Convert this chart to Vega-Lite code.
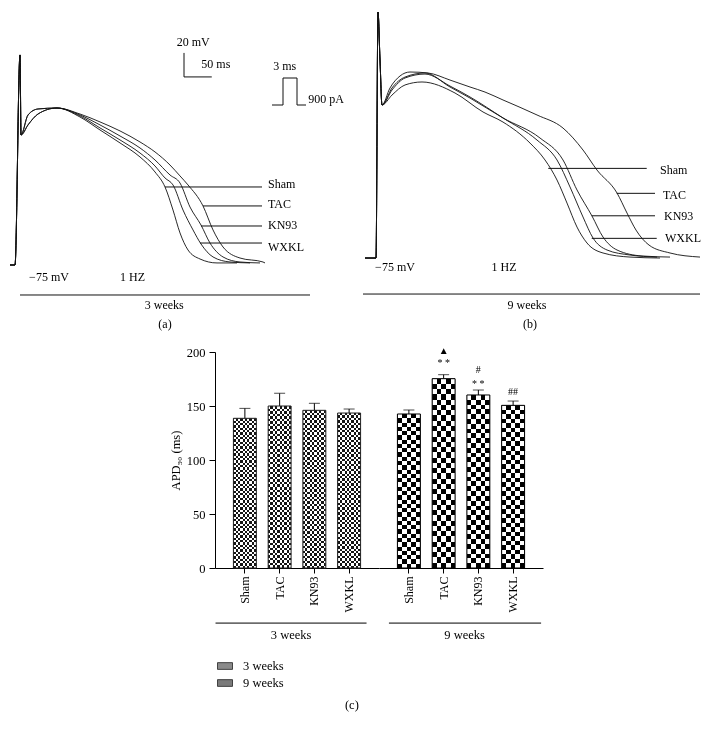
{
  "$schema": "https://vega.github.io/schema/vega-lite/v6.json",
  "padding": 0,
  "background": "white",
  "config": {
    "view": {"stroke": null},
    "font": "Liberation Serif",
    "axis": {"labelFont": "Liberation Serif", "titleFont": "Liberation Serif", "labelColor": "#000", "titleColor": "#000"},
    "text": {"font": "Liberation Serif"}
  },
  "datasets": {
    "tracesA": [
      {"series": "Sham", "t": -9, "v": -75}, {"series": "Sham", "t": 0, "v": -75}, {"series": "Sham", "t": 9, "v": 100}, {"series": "Sham", "t": 10.8, "v": 33.3},
      {"series": "Sham", "t": 23.4, "v": 41.7}, {"series": "Sham", "t": 41.4, "v": 50.8}, {"series": "Sham", "t": 75.6, "v": 55.8}, {"series": "Sham", "t": 117, "v": 48.3},
      {"series": "Sham", "t": 153, "v": 37.5}, {"series": "Sham", "t": 189, "v": 26.7}, {"series": "Sham", "t": 225, "v": 15}, {"series": "Sham", "t": 252, "v": 2.5},
      {"series": "Sham", "t": 270, "v": -10}, {"series": "Sham", "t": 284.4, "v": -29.2}, {"series": "Sham", "t": 297, "v": -48.3}, {"series": "Sham", "t": 311.4, "v": -62.5},
      {"series": "Sham", "t": 333, "v": -70}, {"series": "Sham", "t": 363.6, "v": -73.3}, {"series": "Sham", "t": 399.6, "v": -73.3},
      {"series": "WXKL", "t": -9, "v": -75}, {"series": "WXKL", "t": 0, "v": -75}, {"series": "WXKL", "t": 9, "v": 100}, {"series": "WXKL", "t": 10.8, "v": 33.3},
      {"series": "WXKL", "t": 23.4, "v": 41.7}, {"series": "WXKL", "t": 41.4, "v": 50.8}, {"series": "WXKL", "t": 75.6, "v": 55.8}, {"series": "WXKL", "t": 117, "v": 49.2},
      {"series": "WXKL", "t": 153, "v": 39.2}, {"series": "WXKL", "t": 189, "v": 29.2}, {"series": "WXKL", "t": 225, "v": 18.3}, {"series": "WXKL", "t": 252, "v": 7.5},
      {"series": "WXKL", "t": 270, "v": -2.5}, {"series": "WXKL", "t": 284.4, "v": -8.3}, {"series": "WXKL", "t": 302.4, "v": -29.2}, {"series": "WXKL", "t": 320.4, "v": -45.8},
      {"series": "WXKL", "t": 334.8, "v": -57.5}, {"series": "WXKL", "t": 356.4, "v": -68.3}, {"series": "WXKL", "t": 387, "v": -72.5}, {"series": "WXKL", "t": 423, "v": -73.3},
      {"series": "KN93", "t": -9, "v": -75}, {"series": "KN93", "t": 0, "v": -75}, {"series": "KN93", "t": 9, "v": 100}, {"series": "KN93", "t": 10.8, "v": 33.3},
      {"series": "KN93", "t": 23.4, "v": 50}, {"series": "KN93", "t": 41.4, "v": 55}, {"series": "KN93", "t": 75.6, "v": 55.8}, {"series": "KN93", "t": 117, "v": 50},
      {"series": "KN93", "t": 153, "v": 41.7}, {"series": "KN93", "t": 189, "v": 32.5}, {"series": "KN93", "t": 225, "v": 22.5}, {"series": "KN93", "t": 252, "v": 12.5},
      {"series": "KN93", "t": 279, "v": 0}, {"series": "KN93", "t": 297, "v": -6.7}, {"series": "KN93", "t": 315, "v": -26.7}, {"series": "KN93", "t": 334.8, "v": -41.7},
      {"series": "KN93", "t": 351, "v": -56.7}, {"series": "KN93", "t": 374.4, "v": -68.3}, {"series": "KN93", "t": 405, "v": -72.5}, {"series": "KN93", "t": 441, "v": -73.3},
      {"series": "TAC", "t": -9, "v": -75}, {"series": "TAC", "t": 0, "v": -75}, {"series": "TAC", "t": 9, "v": 100}, {"series": "TAC", "t": 10.8, "v": 33.3},
      {"series": "TAC", "t": 23.4, "v": 50}, {"series": "TAC", "t": 41.4, "v": 55}, {"series": "TAC", "t": 75.6, "v": 55.8}, {"series": "TAC", "t": 117, "v": 50.8},
      {"series": "TAC", "t": 153, "v": 44.2}, {"series": "TAC", "t": 189, "v": 36.7}, {"series": "TAC", "t": 225, "v": 27.5}, {"series": "TAC", "t": 252, "v": 19.2},
      {"series": "TAC", "t": 279, "v": 8.3}, {"series": "TAC", "t": 297, "v": -0.8}, {"series": "TAC", "t": 311.4, "v": -8.3}, {"series": "TAC", "t": 338.4, "v": -25.8},
      {"series": "TAC", "t": 356.4, "v": -45.8}, {"series": "TAC", "t": 374.4, "v": -60}, {"series": "TAC", "t": 405, "v": -69.2}, {"series": "TAC", "t": 446.4, "v": -72.5},
      {"series": "TAC", "t": 450, "v": -73.3}
    ],
    "tracesB": [
      {"series": "TAC", "t": -23.4, "v": -75}, {"series": "TAC", "t": -3.6, "v": -75}, {"series": "TAC", "t": 0, "v": 130}, {"series": "TAC", "t": 3.6, "v": 90}, {"series": "TAC", "t": 7.2, "v": 52.5},
      {"series": "TAC", "t": 21.6, "v": 66.7}, {"series": "TAC", "t": 39.6, "v": 76.7}, {"series": "TAC", "t": 57.6, "v": 80}, {"series": "TAC", "t": 90, "v": 79.2},
      {"series": "TAC", "t": 129.6, "v": 73.3}, {"series": "TAC", "t": 165.6, "v": 67.5}, {"series": "TAC", "t": 192.6, "v": 63.3}, {"series": "TAC", "t": 225, "v": 56.7},
      {"series": "TAC", "t": 286.2, "v": 44.2}, {"series": "TAC", "t": 333, "v": 33.3}, {"series": "TAC", "t": 369, "v": 15}, {"series": "TAC", "t": 394.2, "v": -1.7},
      {"series": "TAC", "t": 430.2, "v": -20.8}, {"series": "TAC", "t": 448.2, "v": -37.5}, {"series": "TAC", "t": 464.4, "v": -51.7}, {"series": "TAC", "t": 487.8, "v": -64.2},
      {"series": "TAC", "t": 525.6, "v": -70.8}, {"series": "TAC", "t": 579.6, "v": -74.2},
      {"series": "Sham", "t": -23.4, "v": -75}, {"series": "Sham", "t": -3.6, "v": -75}, {"series": "Sham", "t": 0, "v": 130}, {"series": "Sham", "t": 3.6, "v": 90}, {"series": "Sham", "t": 7.2, "v": 52.5},
      {"series": "Sham", "t": 25.2, "v": 60.8}, {"series": "Sham", "t": 48.6, "v": 69.2}, {"series": "Sham", "t": 79.2, "v": 71.7}, {"series": "Sham", "t": 138.6, "v": 62.5},
      {"series": "Sham", "t": 189, "v": 46.7}, {"series": "Sham", "t": 225, "v": 38.3}, {"series": "Sham", "t": 273.6, "v": 20.8}, {"series": "Sham", "t": 300.6, "v": 6.7},
      {"series": "Sham", "t": 322.2, "v": -10}, {"series": "Sham", "t": 340.2, "v": -29.2}, {"series": "Sham", "t": 358.2, "v": -49.2}, {"series": "Sham", "t": 376.2, "v": -62.5},
      {"series": "Sham", "t": 405, "v": -70.8}, {"series": "Sham", "t": 453.6, "v": -74.2}, {"series": "Sham", "t": 507.6, "v": -75},
      {"series": "WXKL", "t": -23.4, "v": -75}, {"series": "WXKL", "t": -3.6, "v": -75}, {"series": "WXKL", "t": 0, "v": 130}, {"series": "WXKL", "t": 3.6, "v": 90}, {"series": "WXKL", "t": 7.2, "v": 52.5},
      {"series": "WXKL", "t": 25.2, "v": 65}, {"series": "WXKL", "t": 48.6, "v": 75}, {"series": "WXKL", "t": 84.6, "v": 78.3}, {"series": "WXKL", "t": 129.6, "v": 68.3},
      {"series": "WXKL", "t": 165.6, "v": 59.2}, {"series": "WXKL", "t": 225, "v": 41.7}, {"series": "WXKL", "t": 286.2, "v": 23.3}, {"series": "WXKL", "t": 322.2, "v": 6.7},
      {"series": "WXKL", "t": 345.6, "v": -15.8}, {"series": "WXKL", "t": 369, "v": -40.8}, {"series": "WXKL", "t": 387, "v": -58.3}, {"series": "WXKL", "t": 412.2, "v": -68.3},
      {"series": "WXKL", "t": 453.6, "v": -72.5}, {"series": "WXKL", "t": 502.2, "v": -74.2},
      {"series": "KN93", "t": -23.4, "v": -75}, {"series": "KN93", "t": -3.6, "v": -75}, {"series": "KN93", "t": 0, "v": 130}, {"series": "KN93", "t": 3.6, "v": 90}, {"series": "KN93", "t": 7.2, "v": 52.5},
      {"series": "KN93", "t": 25.2, "v": 66.7}, {"series": "KN93", "t": 48.6, "v": 75.8}, {"series": "KN93", "t": 84.6, "v": 79.2}, {"series": "KN93", "t": 129.6, "v": 67.5},
      {"series": "KN93", "t": 165.6, "v": 58.3}, {"series": "KN93", "t": 225, "v": 41.7}, {"series": "KN93", "t": 291.6, "v": 25}, {"series": "KN93", "t": 333, "v": 6.7},
      {"series": "KN93", "t": 358.2, "v": -18.3}, {"series": "KN93", "t": 385.2, "v": -40}, {"series": "KN93", "t": 405, "v": -57.5}, {"series": "KN93", "t": 430.2, "v": -68.3},
      {"series": "KN93", "t": 475.2, "v": -73.3}, {"series": "KN93", "t": 525.6, "v": -74.2}
    ],
    "segA": [
      {"t": 304.2, "t2": 304.2, "v": 81.7, "v2": 101.7},
      {"t": 304.2, "t2": 354.2, "v": 81.7, "v2": 81.7},
      {"t": 462.6, "t2": 482.4, "v": 58.3, "v2": 58.3},
      {"t": 482.4, "t2": 482.4, "v": 58.3, "v2": 80.8},
      {"t": 482.4, "t2": 507.6, "v": 80.8, "v2": 80.8},
      {"t": 507.6, "t2": 507.6, "v": 80.8, "v2": 58.3},
      {"t": 507.6, "t2": 523.8, "v": 58.3, "v2": 58.3},
      {"t": 270, "t2": 444.6, "v": -10, "v2": -10},
      {"t": 338.4, "t2": 444.6, "v": -25.8, "v2": -25.8},
      {"t": 334.8, "t2": 444.6, "v": -42.5, "v2": -42.5},
      {"t": 333, "t2": 444.6, "v": -56.7, "v2": -56.7},
      {"t": 9, "t2": 531, "v": -100, "v2": -100}
    ],
    "segB": [
      {"t": 306.5, "t2": 483.7, "v": -0.3, "v2": -0.3},
      {"t": 429.7, "t2": 498.6, "v": -21.1, "v2": -21.1},
      {"t": 384.7, "t2": 498.6, "v": -39.8, "v2": -39.8},
      {"t": 384.7, "t2": 501.7, "v": -58.6, "v2": -58.6},
      {"t": -27, "t2": 579.6, "v": -105, "v2": -105}
    ],
    "midTextA": [
      {"t": 320.9, "v": 110.6, "label": "20 mV"},
      {"t": 361.5, "v": 92.2, "label": "50 ms"},
      {"t": 485.4, "v": 91.1, "label": "3 ms"},
      {"t": 61.2, "v": -85, "label": "−75 mV"},
      {"t": 211.5, "v": -85, "label": "1 HZ"},
      {"t": 268.7, "v": -108.3, "label": "3 weeks"},
      {"t": 270, "v": -124.2, "label": "(a)"}
    ],
    "leftTextA": [
      {"t": 528, "v": 63.3, "label": "900 pA"},
      {"t": 455.4, "v": -7.5, "label": "Sham"},
      {"t": 455.4, "v": -24.2, "label": "TAC"},
      {"t": 455.4, "v": -41.7, "label": "KN93"},
      {"t": 455.4, "v": -59.7, "label": "WXKL"}
    ],
    "midTextB": [
      {"t": 30.6, "v": -82.5, "label": "−75 mV"},
      {"t": 226.8, "v": -82.5, "label": "1 HZ"},
      {"t": 268.2, "v": -114.2, "label": "9 weeks"},
      {"t": 273.6, "v": -130, "label": "(b)"}
    ],
    "leftTextB": [
      {"t": 507.6, "v": -1.7, "label": "Sham"},
      {"t": 513, "v": -22.5, "label": "TAC"},
      {"t": 514.8, "v": -40.3, "label": "KN93"},
      {"t": 516.6, "v": -58.5, "label": "WXKL"}
    ],
    "bars3w": [
      {"treatment": "Sham", "week": "3 weeks", "apd": 138.6, "upper": 147.8},
      {"treatment": "TAC", "week": "3 weeks", "apd": 150, "upper": 161.7},
      {"treatment": "KN93", "week": "3 weeks", "apd": 146, "upper": 152.5},
      {"treatment": "WXKL", "week": "3 weeks", "apd": 143.5, "upper": 147.2}
    ],
    "bars9w": [
      {"treatment": "Sham", "week": "9 weeks", "apd": 142.6, "upper": 146.3},
      {"treatment": "TAC", "week": "9 weeks", "apd": 175.3, "upper": 179},
      {"treatment": "KN93", "week": "9 weeks", "apd": 160.2, "upper": 164.8},
      {"treatment": "WXKL", "week": "9 weeks", "apd": 150.6, "upper": 154.6}
    ],
    "sig9w": [
      {"treatment": "TAC", "symbol": "▲", "yv": 200.6},
      {"treatment": "TAC", "symbol": "* *", "yv": 190},
      {"treatment": "KN93", "symbol": "#", "yv": 183.3},
      {"treatment": "KN93", "symbol": "* *", "yv": 170.6},
      {"treatment": "WXKL", "symbol": "##", "yv": 163.2}
    ]
  },
  "vconcat": [
    {
      "hconcat": [
        {
          "width": 345, "height": 340,
          "layer": [
            {"data": {"name": "tracesA"}, "mark": {"type": "line", "color": "#111", "strokeWidth": 0.9, "interpolate": "monotone"},
             "encoding": {
               "x": {"field": "t", "type": "quantitative", "scale": {"domain": [-27, 594], "nice": false, "zero": false}, "axis": null},
               "y": {"field": "v", "type": "quantitative", "scale": {"domain": [-137.5, 145.8], "nice": false, "zero": false}, "axis": null},
               "detail": {"field": "series"}}},
            {"data": {"name": "segA"}, "mark": {"type": "rule", "color": "#111", "strokeWidth": 1},
             "encoding": {"x": {"field": "t", "type": "quantitative"}, "x2": {"field": "t2"}, "y": {"field": "v", "type": "quantitative"}, "y2": {"field": "v2"}}},
            {"data": {"name": "midTextA"}, "mark": {"type": "text", "align": "center", "baseline": "middle", "fontSize": 12, "color": "#000"},
             "encoding": {"x": {"field": "t", "type": "quantitative"}, "y": {"field": "v", "type": "quantitative"}, "text": {"field": "label"}}},
            {"data": {"name": "leftTextA"}, "mark": {"type": "text", "align": "left", "baseline": "middle", "fontSize": 12, "color": "#000"},
             "encoding": {"x": {"field": "t", "type": "quantitative"}, "y": {"field": "v", "type": "quantitative"}, "text": {"field": "label"}}}
          ]
        },
        {
          "width": 364, "height": 340,
          "layer": [
            {"data": {"name": "tracesB"}, "mark": {"type": "line", "color": "#111", "strokeWidth": 0.9, "interpolate": "monotone"},
             "encoding": {
               "x": {"field": "t", "type": "quantitative", "scale": {"domain": [-59.4, 595.8], "nice": false, "zero": false}, "axis": null},
               "y": {"field": "v", "type": "quantitative", "scale": {"domain": [-143.3, 140], "nice": false, "zero": false}, "axis": null},
               "detail": {"field": "series"}}},
            {"data": {"name": "segB"}, "mark": {"type": "rule", "color": "#111", "strokeWidth": 1},
             "encoding": {"x": {"field": "t", "type": "quantitative"}, "x2": {"field": "t2"}, "y": {"field": "v", "type": "quantitative"}, "y2": {"field": "v2"}}},
            {"data": {"name": "midTextB"}, "mark": {"type": "text", "align": "center", "baseline": "middle", "fontSize": 12, "color": "#000"},
             "encoding": {"x": {"field": "t", "type": "quantitative"}, "y": {"field": "v", "type": "quantitative"}, "text": {"field": "label"}}},
            {"data": {"name": "leftTextB"}, "mark": {"type": "text", "align": "left", "baseline": "middle", "fontSize": 12, "color": "#000"},
             "encoding": {"x": {"field": "t", "type": "quantitative"}, "y": {"field": "v", "type": "quantitative"}, "text": {"field": "label"}}}
          ]
        }
      ],
      "spacing": 0,
      "bounds": "flush"
    },
    {
      "hconcat": [
        {"width": 215, "height": 216, "data": {"values": [{"blank": 0}]}, "mark": {"type": "point", "opacity": 0}, "encoding": {}},
        {
          "width": 164, "height": 216,
          "data": {"name": "bars3w"},
          "encoding": {
            "x": {"field": "treatment", "type": "nominal", "sort": ["Sham", "TAC", "KN93", "WXKL"],
                  "scale": {"paddingInner": 0.34, "paddingOuter": 0.53},
                  "axis": {"title": null, "labelAngle": -90, "labelFontSize": 12, "tickSize": 5, "tickColor": "#000", "domainColor": "#000", "labelPadding": 3}}
          },
          "layer": [
            {"mark": {"type": "rule", "color": "#000", "strokeWidth": 1},
             "encoding": {"y": {"field": "apd", "type": "quantitative", "scale": {"domain": [0, 200], "nice": false},
                                "axis": {"title": "APD₉₀ (ms)", "values": [0, 50, 100, 150, 200], "grid": false, "tickSize": 6, "labelPadding": 4, "labelFontSize": 12.5, "titleFontSize": 12.5, "titleFontWeight": "normal", "titlePadding": 4, "domainColor": "#000", "tickColor": "#000"}},
                          "y2": {"field": "upper"}}},
            {"mark": {"type": "tick", "color": "#000", "thickness": 1, "size": 11},
             "encoding": {"y": {"field": "upper", "type": "quantitative"}}},
            {"mark": {"type": "bar"},
             "encoding": {"y": {"field": "apd", "type": "quantitative"},
                          "fill": {"field": "week", "type": "nominal", "scale": {"domain": ["3 weeks", "9 weeks"], "range": ["#8a8a8a", "#7a7a7a"]},
                                   "legend": {"orient": "none", "legendX": 2, "legendY": 306, "title": null, "symbolType": "M-1,-0.45H1V0.45H-1Z", "symbolSize": 225, "symbolStrokeColor": "#222", "symbolStrokeWidth": 0.8, "labelFontSize": 12.5, "labelColor": "#000", "labelOffset": 10, "rowPadding": 2, "symbolOpacity": 1}}}},
            {"mark": {"type": "bar", "fill": {"gradient": "linear", "x1": 0, "y1": 0, "x2": 1, "y2": 0, "stops": [
                {"offset": 0, "color": "#000"}, {"offset": 0.1, "color": "#000"}, {"offset": 0.1, "color": "#fff"}, {"offset": 0.2, "color": "#fff"},
                {"offset": 0.2, "color": "#000"}, {"offset": 0.3, "color": "#000"}, {"offset": 0.3, "color": "#fff"}, {"offset": 0.4, "color": "#fff"},
                {"offset": 0.4, "color": "#000"}, {"offset": 0.5, "color": "#000"}, {"offset": 0.5, "color": "#fff"}, {"offset": 0.6, "color": "#fff"},
                {"offset": 0.6, "color": "#000"}, {"offset": 0.7, "color": "#000"}, {"offset": 0.7, "color": "#fff"}, {"offset": 0.8, "color": "#fff"},
                {"offset": 0.8, "color": "#000"}, {"offset": 0.9, "color": "#000"}, {"offset": 0.9, "color": "#fff"}, {"offset": 1, "color": "#fff"}]}},
             "encoding": {"y": {"field": "apd", "type": "quantitative"}}},
            {"mark": {"type": "bar", "blend": "difference", "fill": {"gradient": "linear", "x1": 0, "y1": 0, "x2": 0, "y2": 1, "stops": [
                {"offset": 0, "color": "#fff"}, {"offset": 0.015625, "color": "#fff"}, {"offset": 0.015625, "color": "#000"}, {"offset": 0.03125, "color": "#000"},
                {"offset": 0.03125, "color": "#fff"}, {"offset": 0.046875, "color": "#fff"}, {"offset": 0.046875, "color": "#000"}, {"offset": 0.0625, "color": "#000"},
                {"offset": 0.0625, "color": "#fff"}, {"offset": 0.078125, "color": "#fff"}, {"offset": 0.078125, "color": "#000"}, {"offset": 0.09375, "color": "#000"},
                {"offset": 0.09375, "color": "#fff"}, {"offset": 0.109375, "color": "#fff"}, {"offset": 0.109375, "color": "#000"}, {"offset": 0.125, "color": "#000"},
                {"offset": 0.125, "color": "#fff"}, {"offset": 0.140625, "color": "#fff"}, {"offset": 0.140625, "color": "#000"}, {"offset": 0.15625, "color": "#000"},
                {"offset": 0.15625, "color": "#fff"}, {"offset": 0.171875, "color": "#fff"}, {"offset": 0.171875, "color": "#000"}, {"offset": 0.1875, "color": "#000"},
                {"offset": 0.1875, "color": "#fff"}, {"offset": 0.203125, "color": "#fff"}, {"offset": 0.203125, "color": "#000"}, {"offset": 0.21875, "color": "#000"},
                {"offset": 0.21875, "color": "#fff"}, {"offset": 0.234375, "color": "#fff"}, {"offset": 0.234375, "color": "#000"}, {"offset": 0.25, "color": "#000"},
                {"offset": 0.25, "color": "#fff"}, {"offset": 0.265625, "color": "#fff"}, {"offset": 0.265625, "color": "#000"}, {"offset": 0.28125, "color": "#000"},
                {"offset": 0.28125, "color": "#fff"}, {"offset": 0.296875, "color": "#fff"}, {"offset": 0.296875, "color": "#000"}, {"offset": 0.3125, "color": "#000"},
                {"offset": 0.3125, "color": "#fff"}, {"offset": 0.328125, "color": "#fff"}, {"offset": 0.328125, "color": "#000"}, {"offset": 0.34375, "color": "#000"},
                {"offset": 0.34375, "color": "#fff"}, {"offset": 0.359375, "color": "#fff"}, {"offset": 0.359375, "color": "#000"}, {"offset": 0.375, "color": "#000"},
                {"offset": 0.375, "color": "#fff"}, {"offset": 0.390625, "color": "#fff"}, {"offset": 0.390625, "color": "#000"}, {"offset": 0.40625, "color": "#000"},
                {"offset": 0.40625, "color": "#fff"}, {"offset": 0.421875, "color": "#fff"}, {"offset": 0.421875, "color": "#000"}, {"offset": 0.4375, "color": "#000"},
                {"offset": 0.4375, "color": "#fff"}, {"offset": 0.453125, "color": "#fff"}, {"offset": 0.453125, "color": "#000"}, {"offset": 0.46875, "color": "#000"},
                {"offset": 0.46875, "color": "#fff"}, {"offset": 0.484375, "color": "#fff"}, {"offset": 0.484375, "color": "#000"}, {"offset": 0.5, "color": "#000"},
                {"offset": 0.5, "color": "#fff"}, {"offset": 0.515625, "color": "#fff"}, {"offset": 0.515625, "color": "#000"}, {"offset": 0.53125, "color": "#000"},
                {"offset": 0.53125, "color": "#fff"}, {"offset": 0.546875, "color": "#fff"}, {"offset": 0.546875, "color": "#000"}, {"offset": 0.5625, "color": "#000"},
                {"offset": 0.5625, "color": "#fff"}, {"offset": 0.578125, "color": "#fff"}, {"offset": 0.578125, "color": "#000"}, {"offset": 0.59375, "color": "#000"},
                {"offset": 0.59375, "color": "#fff"}, {"offset": 0.609375, "color": "#fff"}, {"offset": 0.609375, "color": "#000"}, {"offset": 0.625, "color": "#000"},
                {"offset": 0.625, "color": "#fff"}, {"offset": 0.640625, "color": "#fff"}, {"offset": 0.640625, "color": "#000"}, {"offset": 0.65625, "color": "#000"},
                {"offset": 0.65625, "color": "#fff"}, {"offset": 0.671875, "color": "#fff"}, {"offset": 0.671875, "color": "#000"}, {"offset": 0.6875, "color": "#000"},
                {"offset": 0.6875, "color": "#fff"}, {"offset": 0.703125, "color": "#fff"}, {"offset": 0.703125, "color": "#000"}, {"offset": 0.71875, "color": "#000"},
                {"offset": 0.71875, "color": "#fff"}, {"offset": 0.734375, "color": "#fff"}, {"offset": 0.734375, "color": "#000"}, {"offset": 0.75, "color": "#000"},
                {"offset": 0.75, "color": "#fff"}, {"offset": 0.765625, "color": "#fff"}, {"offset": 0.765625, "color": "#000"}, {"offset": 0.78125, "color": "#000"},
                {"offset": 0.78125, "color": "#fff"}, {"offset": 0.796875, "color": "#fff"}, {"offset": 0.796875, "color": "#000"}, {"offset": 0.8125, "color": "#000"},
                {"offset": 0.8125, "color": "#fff"}, {"offset": 0.828125, "color": "#fff"}, {"offset": 0.828125, "color": "#000"}, {"offset": 0.84375, "color": "#000"},
                {"offset": 0.84375, "color": "#fff"}, {"offset": 0.859375, "color": "#fff"}, {"offset": 0.859375, "color": "#000"}, {"offset": 0.875, "color": "#000"},
                {"offset": 0.875, "color": "#fff"}, {"offset": 0.890625, "color": "#fff"}, {"offset": 0.890625, "color": "#000"}, {"offset": 0.90625, "color": "#000"},
                {"offset": 0.90625, "color": "#fff"}, {"offset": 0.921875, "color": "#fff"}, {"offset": 0.921875, "color": "#000"}, {"offset": 0.9375, "color": "#000"},
                {"offset": 0.9375, "color": "#fff"}, {"offset": 0.953125, "color": "#fff"}, {"offset": 0.953125, "color": "#000"}, {"offset": 0.96875, "color": "#000"},
                {"offset": 0.96875, "color": "#fff"}, {"offset": 0.984375, "color": "#fff"}, {"offset": 0.984375, "color": "#000"}, {"offset": 1, "color": "#000"}]}},
             "encoding": {"y": {"field": "apd", "type": "quantitative"}}},
            {"mark": {"type": "bar", "fill": "#fff", "fillOpacity": 0.08, "stroke": "#222", "strokeWidth": 1},
             "encoding": {"y": {"field": "apd", "type": "quantitative"}}},
            {"data": {"values": [{"label": "3 weeks"}]}, "mark": {"type": "rule", "color": "#000", "strokeWidth": 1},
             "encoding": {"x": {"datum": "Sham", "bandPosition": -0.78}, "x2": {"datum": "WXKL", "bandPosition": 1.26}, "y": {"datum": -51}}},
            {"data": {"values": [{"label": "3 weeks"}]}, "mark": {"type": "text", "align": "center", "baseline": "middle", "fontSize": 12.5, "color": "#000"},
             "encoding": {"x": {"datum": "TAC", "bandPosition": 1.0}, "y": {"datum": -62}, "text": {"field": "label"}}},
            {"data": {"values": [{"label": "(c)"}]}, "mark": {"type": "text", "align": "center", "baseline": "middle", "fontSize": 12.5, "color": "#000"},
             "encoding": {"x": {"datum": "WXKL", "bandPosition": 0.62}, "y": {"datum": -127}, "text": {"field": "label"}}}
          ]
        },
        {
          "width": 164, "height": 216,
          "data": {"name": "bars9w"},
          "encoding": {
            "x": {"field": "treatment", "type": "nominal", "sort": ["Sham", "TAC", "KN93", "WXKL"],
                  "scale": {"paddingInner": 0.34, "paddingOuter": 0.53},
                  "axis": {"title": null, "labelAngle": -90, "labelFontSize": 12, "tickSize": 5, "tickColor": "#000", "domainColor": "#000", "labelPadding": 3}}
          },
          "layer": [
            {"mark": {"type": "rule", "color": "#000", "strokeWidth": 1},
             "encoding": {"y": {"field": "apd", "type": "quantitative", "scale": {"domain": [0, 200], "nice": false}, "axis": null},
                          "y2": {"field": "upper"}}},
            {"mark": {"type": "tick", "color": "#000", "thickness": 1, "size": 11},
             "encoding": {"y": {"field": "upper", "type": "quantitative"}}},
            {"mark": {"type": "bar", "fill": {"gradient": "linear", "x1": 0, "y1": 0, "x2": 1, "y2": 0, "stops": [
                {"offset": 0, "color": "#000"}, {"offset": 0.2, "color": "#000"}, {"offset": 0.2, "color": "#fff"}, {"offset": 0.4, "color": "#fff"},
                {"offset": 0.4, "color": "#000"}, {"offset": 0.6, "color": "#000"}, {"offset": 0.6, "color": "#fff"}, {"offset": 0.8, "color": "#fff"},
                {"offset": 0.8, "color": "#000"}, {"offset": 1, "color": "#000"}]}},
             "encoding": {"y": {"field": "apd", "type": "quantitative"}}},
            {"mark": {"type": "bar", "blend": "difference", "fill": {"gradient": "linear", "x1": 0, "y1": 0, "x2": 0, "y2": 1, "stops": [
                {"offset": 0, "color": "#fff"}, {"offset": 0.0278, "color": "#fff"}, {"offset": 0.0278, "color": "#000"}, {"offset": 0.0556, "color": "#000"},
                {"offset": 0.0556, "color": "#fff"}, {"offset": 0.0833, "color": "#fff"}, {"offset": 0.0833, "color": "#000"}, {"offset": 0.1111, "color": "#000"},
                {"offset": 0.1111, "color": "#fff"}, {"offset": 0.1389, "color": "#fff"}, {"offset": 0.1389, "color": "#000"}, {"offset": 0.1667, "color": "#000"},
                {"offset": 0.1667, "color": "#fff"}, {"offset": 0.1944, "color": "#fff"}, {"offset": 0.1944, "color": "#000"}, {"offset": 0.2222, "color": "#000"},
                {"offset": 0.2222, "color": "#fff"}, {"offset": 0.25, "color": "#fff"}, {"offset": 0.25, "color": "#000"}, {"offset": 0.2778, "color": "#000"},
                {"offset": 0.2778, "color": "#fff"}, {"offset": 0.3056, "color": "#fff"}, {"offset": 0.3056, "color": "#000"}, {"offset": 0.3333, "color": "#000"},
                {"offset": 0.3333, "color": "#fff"}, {"offset": 0.3611, "color": "#fff"}, {"offset": 0.3611, "color": "#000"}, {"offset": 0.3889, "color": "#000"},
                {"offset": 0.3889, "color": "#fff"}, {"offset": 0.4167, "color": "#fff"}, {"offset": 0.4167, "color": "#000"}, {"offset": 0.4444, "color": "#000"},
                {"offset": 0.4444, "color": "#fff"}, {"offset": 0.4722, "color": "#fff"}, {"offset": 0.4722, "color": "#000"}, {"offset": 0.5, "color": "#000"},
                {"offset": 0.5, "color": "#fff"}, {"offset": 0.5278, "color": "#fff"}, {"offset": 0.5278, "color": "#000"}, {"offset": 0.5556, "color": "#000"},
                {"offset": 0.5556, "color": "#fff"}, {"offset": 0.5833, "color": "#fff"}, {"offset": 0.5833, "color": "#000"}, {"offset": 0.6111, "color": "#000"},
                {"offset": 0.6111, "color": "#fff"}, {"offset": 0.6389, "color": "#fff"}, {"offset": 0.6389, "color": "#000"}, {"offset": 0.6667, "color": "#000"},
                {"offset": 0.6667, "color": "#fff"}, {"offset": 0.6944, "color": "#fff"}, {"offset": 0.6944, "color": "#000"}, {"offset": 0.7222, "color": "#000"},
                {"offset": 0.7222, "color": "#fff"}, {"offset": 0.75, "color": "#fff"}, {"offset": 0.75, "color": "#000"}, {"offset": 0.7778, "color": "#000"},
                {"offset": 0.7778, "color": "#fff"}, {"offset": 0.8056, "color": "#fff"}, {"offset": 0.8056, "color": "#000"}, {"offset": 0.8333, "color": "#000"},
                {"offset": 0.8333, "color": "#fff"}, {"offset": 0.8611, "color": "#fff"}, {"offset": 0.8611, "color": "#000"}, {"offset": 0.8889, "color": "#000"},
                {"offset": 0.8889, "color": "#fff"}, {"offset": 0.9167, "color": "#fff"}, {"offset": 0.9167, "color": "#000"}, {"offset": 0.9444, "color": "#000"},
                {"offset": 0.9444, "color": "#fff"}, {"offset": 0.9722, "color": "#fff"}, {"offset": 0.9722, "color": "#000"}, {"offset": 1, "color": "#000"}]}},
             "encoding": {"y": {"field": "apd", "type": "quantitative"}}},
            {"mark": {"type": "bar", "fill": "#fff", "fillOpacity": 0, "stroke": "#000", "strokeWidth": 1},
             "encoding": {"y": {"field": "apd", "type": "quantitative"}}},
            {"data": {"name": "sig9w"}, "mark": {"type": "text", "align": "center", "baseline": "middle", "fontSize": 10, "color": "#000"},
             "encoding": {"y": {"field": "yv", "type": "quantitative"}, "text": {"field": "symbol"}}},
            {"data": {"values": [{"label": "9 weeks"}]}, "mark": {"type": "rule", "color": "#000", "strokeWidth": 1},
             "encoding": {"x": {"datum": "Sham", "bandPosition": -0.37}, "x2": {"datum": "WXKL", "bandPosition": 1.72}, "y": {"datum": -51}}},
            {"data": {"values": [{"label": "9 weeks"}]}, "mark": {"type": "text", "align": "center", "baseline": "middle", "fontSize": 12.5, "color": "#000"},
             "encoding": {"x": {"datum": "KN93", "bandPosition": -0.1}, "y": {"datum": -62}, "text": {"field": "label"}}}
          ]
        }
      ],
      "spacing": 0,
      "bounds": "flush",
      "resolve": {"scale": {"fill": "independent"}, "legend": {"fill": "independent"}}
    }
  ],
  "spacing": 6,
  "bounds": "full"
}
